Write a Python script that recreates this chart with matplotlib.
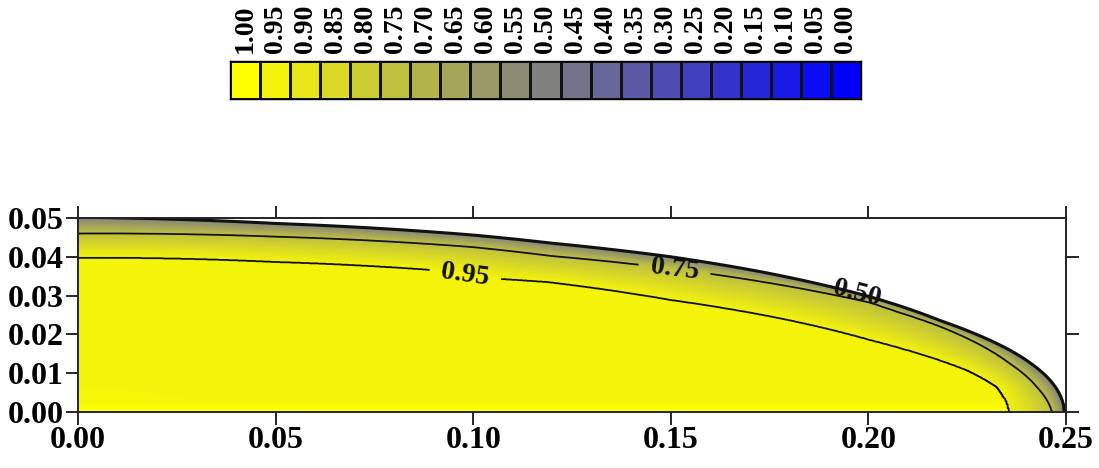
import matplotlib
matplotlib.use("Agg")
import matplotlib.pyplot as plt
import numpy as np
from matplotlib.colors import LinearSegmentedColormap, ListedColormap

plt.rcParams["font.family"] = "serif"
plt.rcParams["font.serif"] = ["Liberation Serif", "DejaVu Serif"]
plt.rcParams["font.weight"] = "bold"

# colour scale (0 = blue, 1 = yellow), one box per labelled value
scale_values = [1.00, 0.95, 0.90, 0.85, 0.80, 0.75, 0.70, 0.65, 0.60, 0.55, 0.50,
                0.45, 0.40, 0.35, 0.30, 0.25, 0.20, 0.15, 0.10, 0.05, 0.00]

# contour positions (x, y in data units)
edge_x = [0.000, 0.050, 0.100, 0.120, 0.150, 0.173, 0.200, 0.208, 0.218, 0.236, 0.245, 0.2495]
edge_y = [0.0502, 0.0486, 0.0456, 0.0435, 0.0400, 0.0361, 0.0298, 0.0273, 0.0236, 0.0158, 0.0092, 0.0000]
edge_level = 0.50

mid_x = [0.000, 0.050, 0.100, 0.120, 0.150, 0.173, 0.200, 0.208, 0.217, 0.2358, 0.2426, 0.2465]
mid_y = [0.0460, 0.0452, 0.0425, 0.0402, 0.0370, 0.0336, 0.0283, 0.0256, 0.0225, 0.0125, 0.0065, 0.0000]
mid_level = 0.75

inner_x = [0.000, 0.050, 0.090, 0.104, 0.119, 0.150, 0.173, 0.200, 0.208, 0.2249, 0.2325, 0.2354]
inner_y = [0.0398, 0.0387, 0.0366, 0.0345, 0.0335, 0.0289, 0.0251, 0.0187, 0.0165, 0.0108, 0.0065, 0.0000]
inner_level = 0.95

core_value = 0.96      # value in the middle of the section
bottom_value = 1.00    # brighter strip along y = 0
bottom_strip = 0.003   # height of that strip

inline_label_pos = [(0.098, 0.0358), (0.151, 0.0372)]
edge_label_pos = [(0.197, 0.0305)]

X_MAX, Y_MAX = 0.25, 0.05

cmap = LinearSegmentedColormap.from_list("by", [(0, 0, 1), (1, 1, 0)])


def polar(xs, ys):
    u = np.asarray(xs) / X_MAX
    v = np.asarray(ys) / Y_MAX
    phi = np.arctan2(v, u)
    r = np.hypot(u, v)
    order = np.argsort(phi)
    return phi[order], r[order]


def build_field():
    gx = np.linspace(0, X_MAX, 900)
    gy = np.linspace(0, 0.053, 600)
    X, Y = np.meshgrid(gx, gy)
    phi = np.arctan2(Y / Y_MAX, X / X_MAX)
    r = np.hypot(X / X_MAX, Y / Y_MAX)

    r_in = np.interp(phi, *polar(inner_x, inner_y))
    r_mid = np.interp(phi, *polar(mid_x, mid_y))
    r_edge = np.interp(phi, *polar(edge_x, edge_y))

    z_core = core_value - (core_value - inner_level) * r / r_in
    z_core = np.maximum(z_core, bottom_value - (bottom_value - core_value) * Y / bottom_strip)
    z_a = inner_level - (inner_level - mid_level) * (r - r_in) / (r_mid - r_in)
    z_b = mid_level - (mid_level - edge_level) * (r - r_mid) / (r_edge - r_mid)
    z_out = edge_level - 5.0 * (r - r_edge)
    Z = np.select([r <= r_in, r <= r_mid, r <= r_edge], [z_core, z_a, z_b], z_out)
    return X, Y, Z


fig = plt.figure(figsize=(10.99, 4.68), dpi=100)

# colour scale boxes
cax = fig.add_axes([230 / 1099, 1 - 99 / 468, 631 / 1099, 38 / 468])
box_colors = ListedColormap([cmap(v) for v in scale_values])
cax.pcolormesh(np.arange(len(scale_values) + 1), [0, 1],
               np.arange(len(scale_values))[None, :], cmap=box_colors,
               edgecolors="#111111", linewidth=1.0)
cax.set_xlim(0, len(scale_values))
cax.set_ylim(0, 1)
cax.set_yticks([])
cax.set_xticks(np.arange(len(scale_values)) + 0.5)
cax.set_xticklabels([f"{v:.2f}" for v in scale_values], rotation=90, fontsize=20)
cax.xaxis.tick_top()
cax.tick_params(axis="x", length=0, pad=6)
for s in cax.spines.values():
    s.set_linewidth(1.0)

# main section
ax = fig.add_axes([78 / 1099, 1 - 412 / 468, 988 / 1099, 194 / 468])
X, Y, Z = build_field()
ax.contourf(X, Y, Z, levels=np.linspace(0.5, 1.001, 60), cmap=cmap, vmin=0, vmax=1)
cs_in = ax.contour(X, Y, Z, levels=[mid_level, inner_level], colors="#111111", linewidths=1.3)
ax.clabel(cs_in, fmt="%.2f", fontsize=20, inline=True, inline_spacing=12,
          manual=inline_label_pos)
cs_edge = ax.contour(X, Y, Z, levels=[edge_level], colors="#111111", linewidths=2.2)
ax.clabel(cs_edge, fmt="%.2f", fontsize=20, inline=False, manual=edge_label_pos)

ax.set_xlim(0, X_MAX)
ax.set_ylim(0, Y_MAX)
ax.set_xticks([0.00, 0.05, 0.10, 0.15, 0.20, 0.25])
ax.set_xticklabels(["0.00", "0.05", "0.10", "0.15", "0.20", "0.25"])
ax.set_yticks([0.00, 0.01, 0.02, 0.03, 0.04, 0.05])
ax.set_yticklabels(["0.00", "0.01", "0.02", "0.03", "0.04", "0.05"])
ax.tick_params(axis="both", direction="out", length=9, width=1.2, labelsize=23, pad=1,
               top=True, labeltop=False)
sec = ax.secondary_yaxis("right")
sec.set_yticks([0.00, 0.02, 0.04])
sec.set_yticklabels([])
sec.tick_params(direction="out", length=9, width=1.2)
sec.spines["right"].set_visible(False)
for s in ax.spines.values():
    s.set_linewidth(1.4)
    s.set_color("#222222")

fig.savefig("out.png", dpi=100)
